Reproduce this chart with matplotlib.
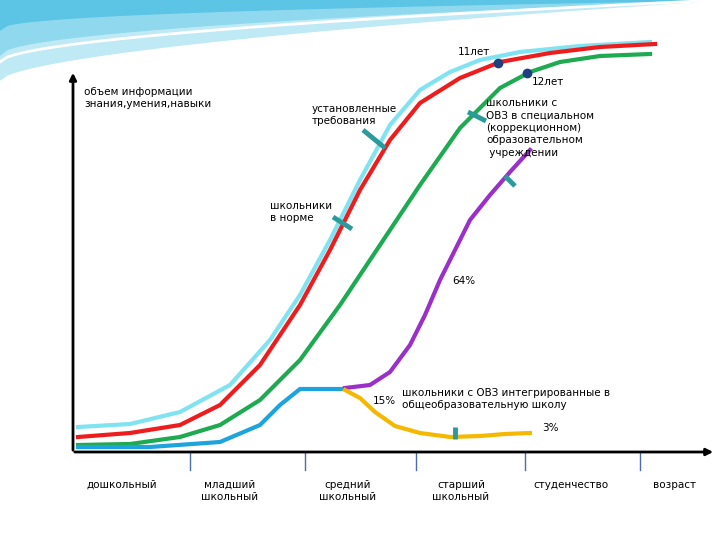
import numpy as np
import matplotlib.pyplot as plt

# curve points (x = age axis, y = amount, screen-like units)
cyan_x = [78, 130, 180, 230, 270, 300, 330, 360, 390, 420, 450, 480, 520, 580, 650]
cyan_y = [427, 424, 412, 385, 340, 295, 240, 180, 125, 90, 72, 60, 52, 46, 42]
red_x = [78, 130, 180, 220, 260, 300, 330, 360, 390, 420, 460, 500, 550, 600, 655]
red_y = [437, 433, 425, 405, 365, 305, 250, 190, 140, 103, 78, 62, 53, 47, 44]
green_x = [78, 130, 180, 220, 260, 300, 340, 380, 420, 460, 500, 530, 560, 600, 650]
green_y = [445, 444, 437, 425, 400, 360, 305, 245, 185, 128, 88, 72, 62, 56, 54]
blue_x = [78, 150, 220, 260, 280, 300, 320, 345]
blue_y = [447, 447, 442, 425, 405, 389, 389, 389]
purple_x = [345, 370, 390, 410, 425, 440, 455, 470, 490, 510, 530]
purple_y = [388, 385, 372, 345, 315, 280, 250, 220, 195, 172, 150]
yellow_x = [345, 360, 375, 395, 420, 450, 480, 505, 530]
yellow_y = [390, 398, 412, 426, 433, 437, 436, 434, 433]

tick_x = [190, 305, 416, 525, 640]
age_labels = ['дошкольный', 'младший\nшкольный', 'средний\nшкольный', 'старший\nшкольный', 'студенчество', 'возраст']
age_label_x = [122, 230, 348, 461, 571, 675]

fig = plt.figure(figsize=(7.2, 5.4), dpi=100)
ax = fig.add_axes([0, 0, 1, 1])
ax.set_xlim(0, 720)
ax.set_ylim(540, 0)
ax.axis('off')

# background swooshes
sx = np.linspace(0, 720, 100)
ax.fill_between(sx, 0, 80 - 80 * (sx / 720) ** 0.6, color='#bfeaf5', zorder=0)
ax.fill_between(sx, 0, 55 - 55 * (sx / 720) ** 0.5, color='#8fd8ee', zorder=0)
ax.fill_between(sx, 0, 30 - 30 * (sx / 720) ** 0.4, color='#5cc4e4', zorder=0)
ax.plot(sx, 62 - 62 * (sx / 720) ** 0.55, color='white', lw=2, zorder=0)

lw = 3
ax.plot(cyan_x, cyan_y, color='#7fe3f2', lw=lw)
ax.plot(red_x, red_y, color='#ee1c1c', lw=lw)
ax.plot(green_x, green_y, color='#1eaa50', lw=lw)
ax.plot(blue_x, blue_y, color='#1ea4dc', lw=lw)
ax.plot(purple_x, purple_y, color='#9b30c8', lw=lw)
ax.plot(yellow_x, yellow_y, color='#f5b800', lw=lw)

# axes arrows
ax.annotate('', xy=(73, 70), xytext=(73, 453), arrowprops=dict(arrowstyle='-|>', color='k', lw=2))
ax.annotate('', xy=(716, 452), xytext=(72, 452), arrowprops=dict(arrowstyle='-|>', color='k', lw=2))
for tx in tick_x:
    ax.plot([tx, tx], [452, 470], color='#4a6fa5', lw=1)

for lx, lab in zip(age_label_x, age_labels):
    ax.text(lx, 480, lab, fontsize=7.5, ha='center', va='top')

# markers
ax.plot([498, 527], [63, 73], 'o', color='#1f3f80', ms=6, ls='none')

# pointers
pointer_col = '#2a9a9a'
for (x0, y0, x1, y1) in [(363, 130, 385, 148), (333, 217, 352, 229), (468, 112, 486, 121),
                         (505, 176, 515, 186), (455, 427, 455, 439)]:
    ax.plot([x0, x1], [y0, y1], color=pointer_col, lw=3.5, solid_capstyle='butt')

fs = 7.5
ax.text(84, 87, 'объем информации\nзнания,умения,навыки', fontsize=fs, va='top')
ax.text(458, 52, '11лет', fontsize=fs, va='center')
ax.text(532, 82, '12лет', fontsize=fs, va='center')
ax.text(312, 104, 'установленные\nтребования', fontsize=fs, va='top')
ax.text(486, 98, 'школьники с\nОВЗ в специальном\n(коррекционном)\nобразовательном\n учреждении',
        fontsize=fs, va='top', linespacing=1.3)
ax.text(270, 201, 'школьники\nв норме', fontsize=fs, va='top')
ax.text(452, 281, '64%', fontsize=fs, va='center')
ax.text(373, 401, '15%', fontsize=fs, va='center')
ax.text(402, 388, 'школьники с ОВЗ интегрированные в\nобщеобразовательную школу', fontsize=fs, va='top')
ax.text(542, 428, '3%', fontsize=fs, va='center')

fig.savefig('out.png', dpi=100)
